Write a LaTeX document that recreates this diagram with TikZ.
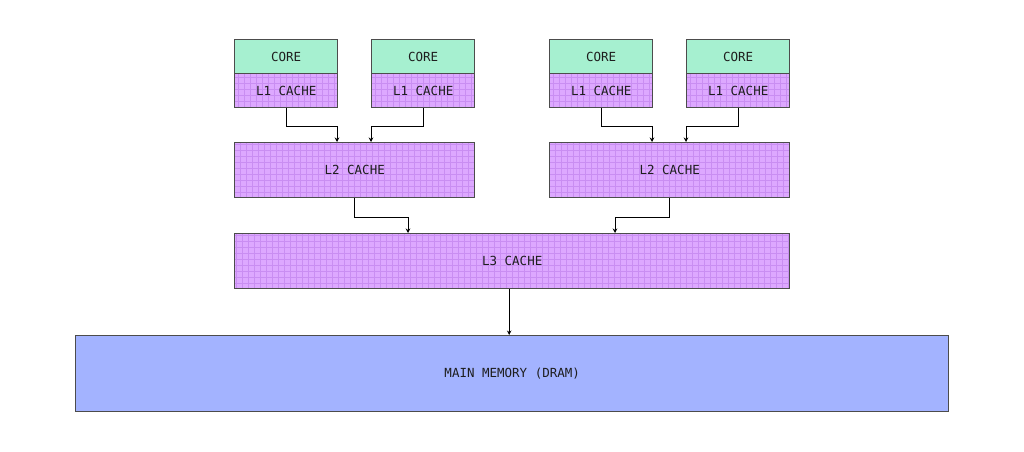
\documentclass[tikz,border=0pt]{standalone}
\usepackage{fontspec}
\setmonofont{DejaVu Sans Mono}
\usetikzlibrary{arrows.meta,calc}
\definecolor{coregreen}{HTML}{A6F0D0}
\definecolor{cachepurple}{HTML}{DDA8FF}
\definecolor{gridpurple}{HTML}{C98EF2}
\definecolor{memblue}{HTML}{A3B3FF}
\definecolor{edgegray}{HTML}{4C4C4C}
\definecolor{txt}{HTML}{1E1E1E}
\tikzset{
  box/.style={draw=edgegray, line width=1.4pt, anchor=north west, inner sep=0pt,
    font=\ttfamily\fontsize{12.5}{14}\selectfont, text=txt},
  corebox/.style={box, fill=coregreen, minimum width=103pt, minimum height=34pt},
  gridded/.style={fill=cachepurple, path picture={
      \draw[gridpurple, line width=0.6pt, step=6pt]
        ([xshift=-1pt,yshift=1pt]path picture bounding box.north west) grid
        ([xshift=1pt,yshift=-1pt]path picture bounding box.south east);}},
  l1box/.style={box, gridded, minimum width=103pt, minimum height=34pt},
  l2box/.style={box, gridded, minimum width=240pt, minimum height=55pt},
  l3box/.style={box, gridded, minimum width=555pt, minimum height=55pt},
  membox/.style={box, fill=memblue, minimum width=873pt, minimum height=76pt},
  conn/.style={draw=black, line width=0.8pt, -{Stealth[length=4.5pt,width=4.5pt]}}
}
\begin{document}
\begin{tikzpicture}[x=1pt,y=-1pt]
\useasboundingbox[fill=white] (0,0) rectangle (1024,451);
% L1 caches (drawn first so core borders are on top)
\node[l1box] (l1a) at (234,73) {L1 CACHE};
\node[l1box] (l1b) at (371,73) {L1 CACHE};
\node[l1box] (l1c) at (549,73) {L1 CACHE};
\node[l1box] (l1d) at (686,73) {L1 CACHE};
% cores
\node[corebox] (c1) at (234,39) {CORE};
\node[corebox] (c2) at (371,39) {CORE};
\node[corebox] (c3) at (549,39) {CORE};
\node[corebox] (c4) at (686,39) {CORE};
% L2
\node[l2box] (l2a) at (234,142) {L2 CACHE};
\node[l2box] (l2b) at (549,142) {L2 CACHE};
% L3
\node[l3box] (l3) at (234,233) {L3 CACHE};
% main memory
\node[membox] (mem) at (75,335) {MAIN MEMORY (DRAM)};
% connectors
\draw[conn] (l1a.south) -- ++(0,18) -| ([xshift=103pt]l2a.north west);
\draw[conn] (l1b.south) -- ++(0,18) -| ([xshift=137pt]l2a.north west);
\draw[conn] (l1c.south) -- ++(0,18) -| ([xshift=103pt]l2b.north west);
\draw[conn] (l1d.south) -- ++(0,18) -| ([xshift=137pt]l2b.north west);
\draw[conn] (l2a.south) -- ++(0,19) -| ([xshift=174pt]l3.north west);
\draw[conn] (l2b.south) -- ++(0,19) -| ([xshift=381pt]l3.north west);
\draw[conn] ([xshift=-3pt]l3.south) -- ([xshift=-3pt]mem.north);
\end{tikzpicture}
\end{document}
